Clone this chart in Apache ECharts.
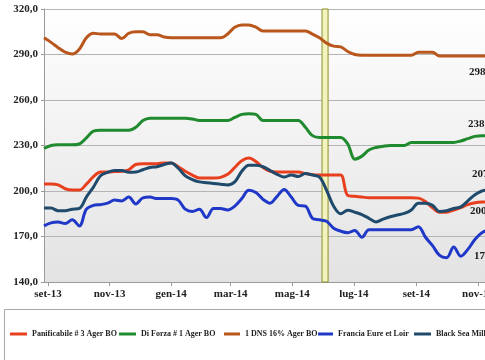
<!DOCTYPE html>
<html>
<head>
<meta charset="utf-8">
<script src="https://cdn.jsdelivr.net/npm/echarts@6/dist/echarts.min.js"></script>
<style>
html,body{margin:0;padding:0;background:#fff;}
#chart{width:485px;height:360px;}
</style>
</head>
<body>
<div id="chart"></div>
<script>
const dates = [
'2013-08-28','2013-09-04','2013-09-11','2013-09-18','2013-09-25','2013-10-02','2013-10-09','2013-10-16','2013-10-23','2013-10-30',
'2013-11-06','2013-11-13','2013-11-20','2013-11-27','2013-12-04','2013-12-11','2013-12-18','2013-12-25','2014-01-01','2014-01-08',
'2014-01-15','2014-01-22','2014-01-29','2014-02-05','2014-02-12','2014-02-19','2014-02-26','2014-03-05','2014-03-12','2014-03-19',
'2014-03-26','2014-04-02','2014-04-09','2014-04-16','2014-04-23','2014-04-30','2014-05-07','2014-05-14','2014-05-21','2014-05-28',
'2014-06-04','2014-06-11','2014-06-18','2014-06-25','2014-07-02','2014-07-09','2014-07-16','2014-07-23','2014-07-30','2014-08-06',
'2014-08-13','2014-08-20','2014-08-27','2014-09-03','2014-09-10','2014-09-17','2014-09-24','2014-10-01','2014-10-08','2014-10-15',
'2014-10-22','2014-10-29','2014-11-05','2014-11-12','2014-11-19'
];

const panificabile = [
204.6,204.6,204,201.5,200.6,200.6,204.5,209.5,212.5,212.5,
212.8,213,214,217.5,218,218,218,218.5,218.5,216,
213,210.5,208.6,208.6,208.6,209,211,215.5,220,221.8,
219.5,215.5,213,212.5,212.5,212.5,212.5,211.5,210.8,210.6,
210.6,210.6,210.6,197,196.5,196,195.5,195.5,195.5,195.5,
195.5,195.5,195.5,195.3,193,189,186,186,187.5,189,
191,192.3,192.7,192.7,192.7
];
const diForza = [
228,230,230.5,230.5,230.5,231,235,239.5,240,240,
240,240,240,242,246.5,248,248,248,248,248,
248,247.5,246.5,246.5,246.5,246.5,246.5,248.5,250.5,251,
250.5,246.5,246.5,246.5,246.5,246.5,246.5,242,236.5,235.3,
235.3,235.3,235.3,231,221,223,227,228.7,229.5,230,
230,230,232,232,232,232,232,232,232,233,
234.5,236,236.5,236.5,237
];
const dns16 = [
301,298,294.5,291.5,290.3,293.5,301,304,303.5,303.5,
303.5,300.5,304,305,305,303,303,301.5,301,301,
301,301,301,301,301,301,303.5,308,309.5,309.5,
308,305.5,305.5,305.5,305.5,305.5,305.5,305.5,303.5,301,
297.5,295.5,295,292,290,289.5,289.5,289.5,289.5,289.5,
289.5,289.5,289.5,291.5,291.5,291.5,289,289,289,289,
289,289,289,289,289
];
const francia = [
177,179,179.5,178.5,181,177,188,190.5,191,192,
194,193.4,196,191.5,195.5,196,195,195,195,194,
188,186.5,188,182.5,188.5,188.5,187.5,190,195,200.5,
199,194.5,192,196.5,201,196,190.5,190,182,181,
180,175.5,173.5,172.5,174,169.5,174.5,174.5,174.5,174.5,
174.5,174.5,174.5,176.5,169.5,164,157.5,156,163,157,
161.5,168,172.5,174,174
];
const blackSea = [
188.8,188.8,187,187,188,188.5,196,202.6,210,212.3,
213.5,213.5,212.3,212.5,214,215.5,216,217.5,218.5,215,
210,207.5,206,205.5,205,204.5,204,206,213,217,
217,216,213.5,211,209.2,210.6,209.5,211.5,210.5,209.2,
200.5,190,185,187.3,186,184.5,182,179.6,181.5,183,
184.2,185.2,187.5,192,192,190.5,186.5,187,188.5,189.5,
193.5,197.5,200,201,202
];

const seriesNames = ['Panificabile # 3 Ager BO','Di Forza # 1 Ager BO','1 DNS 16% Ager BO','Francia Eure et Loir','Black Sea Milling'];
const seriesValues = [panificabile, diForza, dns16, francia, blackSea];
const seriesColors = ['#e8401f','#1f8a2e','#b9561c','#1f38c8','#1f4a6c'];
const tickDates = ['2013-09-01','2013-11-01','2014-01-01','2014-03-01','2014-05-01','2014-07-01','2014-09-01','2014-11-01'];
const monthNames = ['gen','feb','mar','apr','mag','giu','lug','ago','set','ott','nov','dic'];
const endLabels = ['298,0','238,0','207,0','200,0','173,0'];
const axisRange = ['2013-08-28','2014-11-08'];
const markerRange = ['2014-05-30T12:00','2014-06-05T12:00'];
const yTicks = {min:140, max:320, step:30};

function ts(s){
  const p = s.split('T');
  const d = p[0].split('-').map(Number);
  let h = 0, m = 0;
  if (p[1]) { const t = p[1].split(':').map(Number); h = t[0]; m = t[1]; }
  return Date.UTC(d[0], d[1]-1, d[2], h, m);
}

const serif = 'Liberation Serif';
const chart = echarts.init(document.getElementById('chart'), null, {renderer:'canvas'});

const series = seriesNames.map((name, k) => ({
  name: name,
  type: 'line',
  data: dates.map((d, i) => [ts(d), seriesValues[k][i]]),
  smooth: 0.35,
  showSymbol: false,
  symbol: 'none',
  clip: true,
  lineStyle: {color: seriesColors[k], width: 3},
  itemStyle: {color: seriesColors[k]},
  z: 3 + k
}));
series[0].markArea = {
  silent: true,
  itemStyle: {color: '#f3f3bd', borderColor: '#8d8d2c', borderWidth: 1},
  data: [[{xAxis: ts(markerRange[0])}, {xAxis: ts(markerRange[1])}]]
};

const legendLefts = [10, 119, 224, 318, 414];
const legendIconW = [17, 17, 16, 15, 17];
const legends = seriesNames.map((n, k) => ({
  data: [n],
  left: legendLefts[k],
  top: 330,
  padding: 0,
  icon: 'rect',
  itemWidth: legendIconW[k],
  itemHeight: 3,
  selectedMode: false,
  textStyle: {fontFamily: serif, fontWeight: 'bold', fontSize: 8, color: '#222'}
}));

const labelX = [469, 468, 472, 470, 474];
const labelY = [74, 126, 176, 213, 258];
const graphics = [
  {type:'rect', left:2, top:307, shape:{width:560, height:51}, style:{fill:'none', stroke:'#a8a8a8', lineWidth:1}, z:-1}
].concat(endLabels.map((t, k) => ({
  type:'text', left: labelX[k], top: labelY[k] - 7,
  style:{text: t, fill:'#1a1a1a', font: 'bold 11px "Liberation Serif"'}
})));

chart.setOption({
  animation: false,
  backgroundColor: '#ffffff',
  grid: {
    left: 44, right: 0, top: 9, bottom: 78,
    outerBoundsMode: 'none',
    containLabel: false,
    show: true,
    borderWidth: 0,
    backgroundColor: {type:'linear', x:0, y:0, x2:0, y2:1,
      colorStops:[{offset:0, color:'#ffffff'},{offset:1, color:'#e3e3e3'}]}
  },
  legend: legends,
  graphic: graphics,
  xAxis: {
    type: 'value',
    min: ts(axisRange[0]),
    max: ts(axisRange[1]),
    splitLine: {show:false},
    axisLine: {show:true, lineStyle:{color:'#9a9a9a', width:1}},
    axisTick: {show:true, length:4, lineStyle:{color:'#9a9a9a'}, customValues: tickDates.map(ts)},
    axisLabel: {
      customValues: tickDates.map(ts),
      margin: 7,
      hideOverlap: false,
      fontFamily: serif, fontWeight:'bold', fontSize: 11, color:'#222',
      formatter: function(v){
        const d = new Date(v);
        return monthNames[d.getUTCMonth()] + '-' + String(d.getUTCFullYear()).slice(2);
      }
    }
  },
  yAxis: {
    type: 'value',
    min: yTicks.min, max: yTicks.max, interval: yTicks.step,
    splitLine: {show:true, lineStyle:{color:'#b4b4b4', width:1}},
    axisLine: {show:true, lineStyle:{color:'#9a9a9a', width:1}},
    axisTick: {show:true, length:3, lineStyle:{color:'#9a9a9a'}},
    axisLabel: {
      margin: 6,
      fontFamily: serif, fontWeight:'bold', fontSize: 11, color:'#222',
      formatter: function(v){ return v.toFixed(1).replace('.', ','); }
    }
  },
  series: series
});
</script>
</body>
</html>
